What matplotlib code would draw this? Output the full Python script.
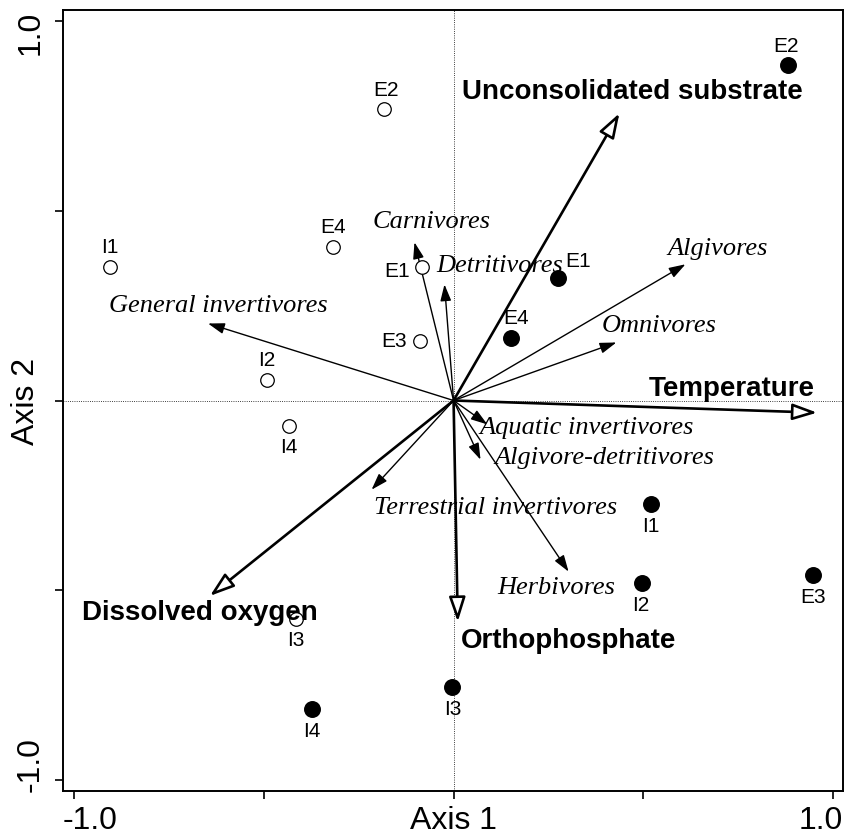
import matplotlib.pyplot as plt

# site scores (open = one period, filled = other)
open_labels = ['E2', 'E4', 'I1', 'E1', 'E3', 'I2', 'I4', 'I3']
open_x = [-0.182, -0.318, -0.905, -0.084, -0.089, -0.492, -0.434, -0.416]
open_y = [0.768, 0.404, 0.351, 0.351, 0.158, 0.053, -0.066, -0.575]

filled_labels = ['E2', 'E1', 'E4', 'I1', 'I2', 'E3', 'I3', 'I4']
filled_x = [0.882, 0.274, 0.150, 0.521, 0.497, 0.947, -0.003, -0.374]
filled_y = [0.884, 0.322, 0.164, -0.272, -0.480, -0.459, -0.755, -0.813]

# functional groups (thin arrows)
groups = ['Carnivores', 'Detritivores', 'Algivores', 'Omnivores', 'General invertivores',
          'Aquatic invertivores', 'Algivore-detritivores', 'Terrestrial invertivores', 'Herbivores']
group_x = [-0.103, -0.024, 0.611, 0.429, -0.647, 0.089, 0.071, -0.216, 0.303]
group_y = [0.417, 0.306, 0.359, 0.153, 0.203, -0.063, -0.156, -0.235, -0.451]

# environmental variables (bold arrows)
env = ['Unconsolidated substrate', 'Temperature', 'Dissolved oxygen', 'Orthophosphate']
env_x = [0.437, 0.958, -0.642, 0.011]
env_y = [0.757, -0.032, -0.515, -0.583]

fig = plt.figure(figsize=(8.45, 8.37), dpi=100)
ax = fig.add_axes([0.0746, 0.0538, 0.923, 0.933])
ax.set_xlim(-1.029, 1.026)
ax.set_ylim(-1.029, 1.029)

ax.axhline(0, color='black', lw=0.6, ls=':', zorder=1)
ax.axvline(0, color='black', lw=0.6, ls=':', zorder=1)

for x, y in zip(group_x, group_y):
    ax.annotate('', xy=(x, y), xytext=(0, 0),
                arrowprops=dict(arrowstyle='-|>,head_length=1.0,head_width=0.33',
                                color='black', lw=1.0, shrinkA=0, shrinkB=0))
for x, y in zip(env_x, env_y):
    ax.annotate('', xy=(x, y), xytext=(0, 0),
                arrowprops=dict(arrowstyle='-|>,head_length=1.5,head_width=0.5',
                                fc='white', ec='black', lw=1.9, shrinkA=0, shrinkB=0))

ax.scatter(open_x, open_y, s=95, facecolors='white', edgecolors='black', lw=0.9, zorder=3)
ax.scatter(filled_x, filled_y, s=125, color='black', zorder=3)

sans = 'Liberation Sans'
# point label offsets in data units
open_off = [(0.004, 0.052), (0, 0.055), (0, 0.055), (-0.065, -0.008), (-0.068, 0),
            (0, 0.055), (0, -0.055), (0, -0.055)]
filled_off = [(-0.005, 0.052), (0.053, 0.047), (0.015, 0.055), (0, -0.057), (-0.003, -0.057),
              (0, -0.057), (0, -0.057), (0, -0.057)]
for lab, x, y, (dx, dy) in zip(open_labels, open_x, open_y, open_off):
    ax.text(x + dx, y + dy, lab, ha='center', va='center', fontsize=15, family=sans)
for lab, x, y, (dx, dy) in zip(filled_labels, filled_x, filled_y, filled_off):
    ax.text(x + dx, y + dy, lab, ha='center', va='center', fontsize=15, family=sans)

group_pos = [(-0.058, 0.472), (0.122, 0.358), (0.695, 0.401), (0.542, 0.198), (-0.621, 0.253),
             (0.350, -0.069), (0.397, -0.148), (0.111, -0.280), (0.271, -0.492)]
for lab, (x, y) in zip(groups, group_pos):
    ax.text(x, y, lab, ha='center', va='center', fontsize=19,
            family='Liberation Serif', style='italic')

env_pos = [(0.470, 0.816), (0.732, 0.033), (-0.668, -0.557), (0.303, -0.631)]
for lab, (x, y) in zip(env, env_pos):
    ax.text(x, y, lab, ha='center', va='center', fontsize=20,
            family=sans, weight='bold')

ax.set_xticks([-1, -0.5, 0, 0.5, 1])
ax.set_yticks([-1, -0.5, 0, 0.5, 1])
ax.set_xticklabels([])
ax.set_yticklabels([])
ax.tick_params(direction='out', length=6, width=1.2)
# end tick labels sit inside the axes extent, as in the original
ax.text(0, -0.037, '-1.0', transform=ax.transAxes, ha='left', va='center', fontsize=23, family=sans)
ax.text(1, -0.037, '1.0', transform=ax.transAxes, ha='right', va='center', fontsize=23, family=sans)
ax.text(-0.041, 0, '-1.0', transform=ax.transAxes, ha='center', va='bottom', rotation=90,
        fontsize=23, family=sans)
ax.text(-0.041, 1, '1.0', transform=ax.transAxes, ha='center', va='top', rotation=90,
        fontsize=23, family=sans)
ax.set_xlabel('Axis 1', fontsize=23, family=sans)
ax.set_ylabel('Axis 2', fontsize=23, family=sans)
ax.xaxis.set_label_coords(0.5, -0.037)
ax.xaxis.label.set_va('center')
ax.yaxis.set_label_coords(-0.047, 0.5)
ax.yaxis.label.set_va('center')
for s in ax.spines.values():
    s.set_linewidth(1.4)

fig.savefig('out.png', dpi=100)
